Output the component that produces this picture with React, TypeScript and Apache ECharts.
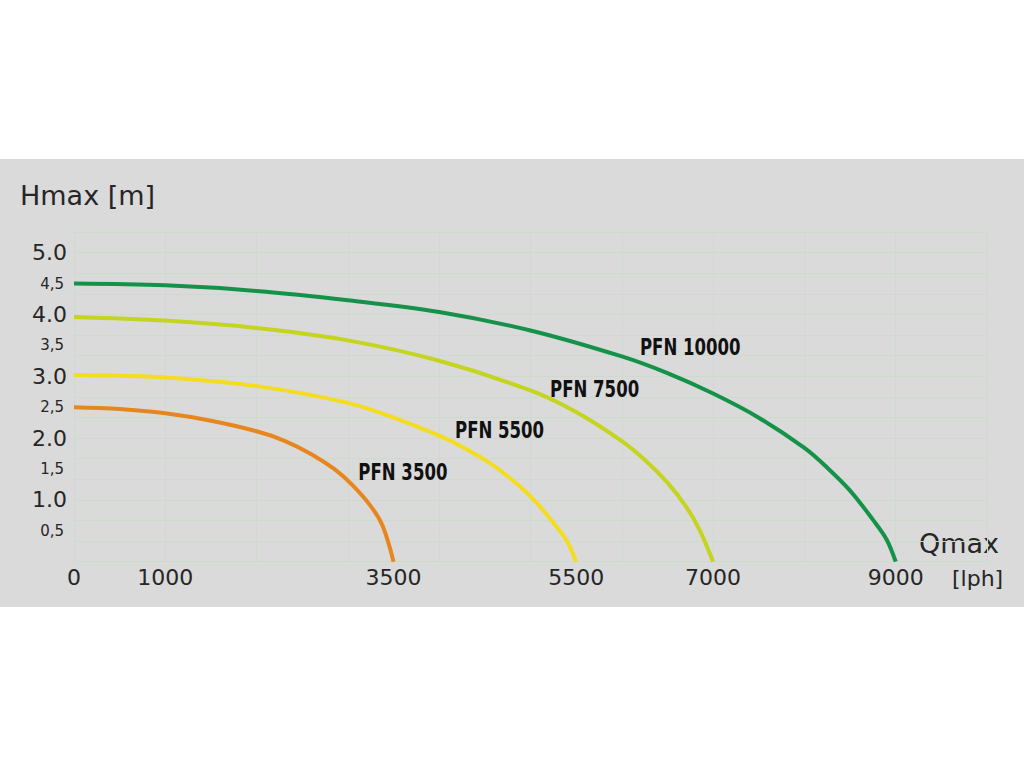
import React, { useEffect, useRef } from "react";
import * as echarts from "echarts";

// Flow Q [lph] and head H [m]
const pfn10000Q = [0, 1000, 2000, 3000, 4000, 5000, 6000, 6500, 7000, 7500, 8000, 8250, 8500, 8750, 8900, 9000];
const pfn10000H = [4.5, 4.47, 4.38, 4.23, 4.04, 3.74, 3.32, 3.05, 2.72, 2.33, 1.84, 1.52, 1.15, 0.68, 0.36, 0];

const pfn7500Q = [0, 1000, 2000, 3000, 4000, 5000, 5500, 6000, 6250, 6500, 6700, 6850, 7000];
const pfn7500H = [3.96, 3.9, 3.78, 3.58, 3.25, 2.77, 2.42, 1.95, 1.65, 1.28, 0.9, 0.52, 0];

const pfn5500Q = [0, 1000, 2000, 3000, 3500, 4000, 4300, 4600, 4850, 5050, 5250, 5400, 5500];
const pfn5500H = [3.02, 2.98, 2.84, 2.57, 2.33, 2.04, 1.82, 1.55, 1.26, 0.98, 0.63, 0.33, 0];

const pfn3500Q = [0, 500, 1000, 1500, 2000, 2300, 2600, 2850, 3050, 3250, 3380, 3500];
const pfn3500H = [2.5, 2.47, 2.4, 2.28, 2.11, 1.96, 1.74, 1.5, 1.24, 0.9, 0.58, 0];

const seriesNames = ["PFN 3500", "PFN 5500", "PFN 7500", "PFN 10000"];
const seriesColors = ["#e8861e", "#f4dc1e", "#c4d41f", "#15924a"];
// label anchor (Q, H) for each series name (left edge, vertical middle)
const labelQ = [3114, 4173, 5214, 6199];
const labelH = [1.452, 2.135, 2.797, 3.467];

const xTickLabels = [0, 1000, 3500, 5500, 7000, 9000];
const yMax = 16 / 3;

function zip(q: number[], h: number[]) {
  return q.map((v, i) => [v, h[i]]);
}

export default function App() {
  const ref = useRef<HTMLDivElement>(null);
  useEffect(() => {
    if (!ref.current) return;
    const chart = echarts.init(ref.current, undefined, { renderer: "svg" });
    const datasets = [
      zip(pfn3500Q, pfn3500H),
      zip(pfn5500Q, pfn5500H),
      zip(pfn7500Q, pfn7500H),
      zip(pfn10000Q, pfn10000H),
    ];
    const gridColor = "#cddbcd";
    const textColor = "#262626";
    const font = "DejaVu Sans";
    const staticGraphics: any[] = [
      {
        id: "band",
        type: "rect",
        z: -100,
        shape: { x: 0, y: 159, width: 1024, height: 448 },
        style: { fill: "#dadada" },
        silent: true,
      },
      {
        id: "ytitle",
        type: "text",
        x: 20,
        y: 195,
        style: {
          text: "Hmax [m]",
          font: `27px "${font}"`,
          fill: textColor,
          verticalAlign: "middle",
        },
      },
      {
        id: "xtitle",
        type: "text",
        x: 919,
        y: 543,
        style: {
          text: "Qmax",
          font: `27px "${font}"`,
          fill: textColor,
          verticalAlign: "middle",
        },
      },
      {
        id: "xunit",
        type: "text",
        x: 952,
        y: 578,
        style: {
          text: "[lph]",
          font: `22px "${font}"`,
          fill: textColor,
          verticalAlign: "middle",
        },
      },
    ];
    chart.setOption({
      animation: false,
      backgroundColor: "#ffffff",
      grid: { left: 74, right: 37, top: 232, bottom: 206.3, containLabel: false },
      graphic: staticGraphics,
      xAxis: [
        {
          type: "value",
          min: 0,
          max: 10000,
          interval: 500,
          axisLine: { show: false },
          axisTick: { show: false },
          splitLine: { show: false },
          axisLabel: {
            margin: 5,
            color: textColor,
            fontFamily: font,
            fontSize: 22,
            showMinLabel: true,
            showMaxLabel: true,
            formatter: (v: number) => (xTickLabels.indexOf(Math.round(v)) >= 0 ? String(Math.round(v)) : ""),
          },
        },
        {
          type: "value",
          min: 0,
          max: 10000,
          interval: 1000,
          position: "bottom",
          axisLine: { show: false },
          axisTick: { show: false },
          axisLabel: { show: false },
          splitLine: { show: true, lineStyle: { color: gridColor, width: 1 } },
        },
      ],
      yAxis: [
        {
          type: "value",
          min: 0,
          max: yMax,
          interval: 0.5,
          axisLine: { show: false },
          axisTick: { show: false },
          splitLine: { show: false },
          axisLabel: {
            margin: 7,
            color: textColor,
            fontFamily: font,
            formatter: (v: number) => {
              if (v <= 0.01 || v > 5.01) return "";
              const isInt = Math.abs(v - Math.round(v)) < 0.01;
              return isInt
                ? `{big|${v.toFixed(1)}}`
                : `{small|${v.toFixed(1).replace(".", ",")}}`;
            },
            rich: {
              big: { fontSize: 22, fontFamily: font, color: textColor },
              small: { fontSize: 15, fontFamily: font, color: textColor, padding: [0, 3, 0, 0] },
            },
          },
        },
        {
          type: "value",
          min: 0,
          max: yMax,
          interval: 1 / 3,
          position: "left",
          axisLine: { show: false },
          axisTick: { show: false },
          axisLabel: { show: false },
          splitLine: { show: true, lineStyle: { color: gridColor, width: 1 } },
        },
      ],
      series: datasets.map((d, i) => ({
        type: "line",
        name: seriesNames[i],
        data: d,
        xAxisIndex: 0,
        yAxisIndex: 0,
        smooth: 0.35,
        symbol: "none",
        lineStyle: { color: seriesColors[i], width: 4 },
        z: 2 + i,
      })),
    });
    // series name labels, positioned through the axes' scales
    const labelGraphics = seriesNames.map((name, i) => {
      const p = chart.convertToPixel({ xAxisIndex: 0, yAxisIndex: 0 }, [labelQ[i], labelH[i]]) as number[];
      return {
        id: "lbl" + i,
        type: "text",
        x: p[0],
        y: p[1],
        scaleX: 0.72,
        z: 50,
        style: {
          text: name,
          font: `bold 23px "${font}"`,
          fill: "#111111",
          align: "left",
          verticalAlign: "middle",
        },
      };
    });
    chart.setOption({ graphic: [...staticGraphics, ...labelGraphics] });
    return () => chart.dispose();
  }, []);
  return (
    <div
      ref={ref}
      style={{ position: "absolute", left: 0, top: 0, width: 1024, height: 768 }}
    />
  );
}
